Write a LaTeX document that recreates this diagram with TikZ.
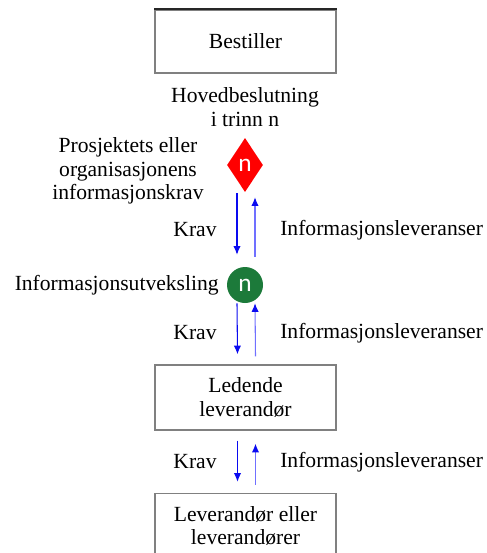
\documentclass[tikz,border=0pt]{standalone}
\usepackage{fontspec}
\setmainfont{Liberation Serif}
\newfontfamily\sansn{Carlito}
\usepackage{tikz}
\usetikzlibrary{calc,arrows.meta,positioning,shapes.geometric}
\definecolor{boxgray}{HTML}{808080}
\definecolor{greenx}{HTML}{1C7A3A}
\definecolor{bluex}{HTML}{0A0AF0}
\definecolor{bluelt}{HTML}{7070FF}
\tikzset{
  box/.style={draw=boxgray,line width=1.1pt,minimum width=135.75pt,align=center,inner sep=0pt,font=\fontsize{16.2}{17.5}\selectfont},
  lbl/.style={font=\fontsize{16.2}{17.5}\selectfont,align=center,inner sep=0pt},
  stepmark/.style={text=white,font=\sansn\fontsize{19}{20}\selectfont,inner sep=0pt},
  dn/.style={-{Latex[length=6.5pt,width=5.5pt]},line width=0.8pt,bluex},
  upar/.style={-{Latex[length=6.5pt,width=5.5pt,color=bluex]},line width=0.8pt,bluelt}
}
\begin{document}
\begin{tikzpicture}[x=0.75pt,y=-0.75pt]
\useasboundingbox (0,0) rectangle (486,553);
\clip (0,0) rectangle (486,553);
% boxes
\node[box,minimum height=47.25pt] (best) at (245.5,41.5) {Bestiller};
\draw[line width=1.6pt,black!85] (best.north west) -- (best.north east);
\node[lbl] (hoved) at (245,107) {Hovedbeslutning\\i trinn n};
\node[diamond,fill=red,minimum width=27pt,minimum height=40.5pt,stepmark] (dia) at (245,165) {n};
\node[lbl] (prosj) at (128,171) {Prosjektets eller\\organisasjonens\\informasjonskrav};
\node[circle,fill=greenx,minimum size=27pt,stepmark] (circ) at (245,285) {n};
\node[lbl,anchor=east] (utv) at (219,285) {Informasjonsutveksling};
\node[box,minimum height=48.75pt] (led) at (245.5,397.5) {Ledende\\leverandør};
\node[box,minimum height=48.75pt] (lev) at (245.5,526) {Leverandør eller\\leverandører};
% krav / leveranser
\node[lbl] (krav1) at (195,230) {Krav};
\node[lbl] (krav2) at (195,333) {Krav};
\node[lbl] (krav3) at (195,462) {Krav};
\node[lbl,anchor=west] (lev1) at (280,230) {Informasjonsleveranser};
\node[lbl,anchor=west] (lev2) at (280,333) {Informasjonsleveranser};
\node[lbl,anchor=west] (lev3) at (280,462) {Informasjonsleveranser};
% arrows
\draw[dn] ($(dia.south)+(-8,1)$) -- ($(circ.north)+(-8,-12)$);
\draw[upar] ($(circ.north)+(10,-10)$) -- ($(dia.south)+(10,5)$);
\draw[dn] ($(circ.south)+(-8,0)$) -- ($(led.north)+(-8,-10)$);
\draw[upar] ($(led.north)+(10,-8)$) -- ($(circ.south)+(10,0)$);
\draw[dn] ($(led.south)+(-8,10)$) -- ($(lev.north)+(-8,-11)$);
\draw[upar] ($(lev.north)+(10,-8)$) -- ($(led.south)+(10,13)$);
\end{tikzpicture}
\end{document}
